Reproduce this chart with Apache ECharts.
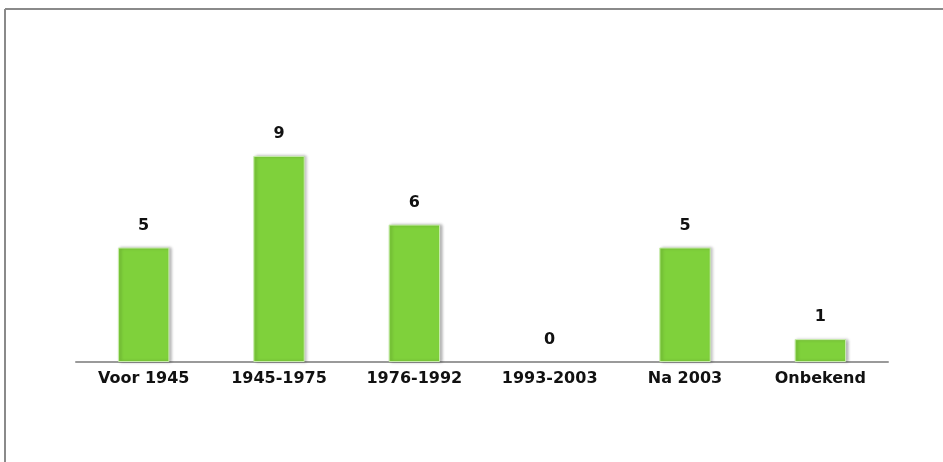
<!DOCTYPE html>
<html><head><meta charset="utf-8">
<script src="https://cdn.jsdelivr.net/npm/echarts@6/dist/echarts.min.js"></script>
<style>html,body{margin:0;padding:0;background:#fff}#c{width:943px;height:462px}</style>
</head><body><div id="c"></div>
<script>
const categories = ['Voor 1945', '1945-1975', '1976-1992', '1993-2003', 'Na 2003', 'Onbekend'];
const values = [5, 9, 6, 0, 5, 1];

const chart = echarts.init(document.getElementById('c'), null, {renderer: 'canvas'});
chart.setOption({
  animation: false,
  backgroundColor: '#fff',
  grid: {left: 76, right: 55, top: 133, bottom: 100},
  xAxis: {
    type: 'category',
    data: categories,
    axisLine: {lineStyle: {color: '#9a9a9a', width: 2}},
    axisTick: {show: false},
    axisLabel: {color: '#111', fontFamily: 'DejaVu Sans', fontWeight: 'bold', fontSize: 16, margin: 9}
  },
  yAxis: {type: 'value', min: 0, max: 10, show: false, splitLine: {show: false}},
  series: [{
    type: 'bar',
    data: values.map(v => v === 0 ? {value: v, itemStyle: {borderWidth: 0, shadowBlur: 0, shadowColor: 'rgba(0,0,0,0)'}} : v),
    barWidth: '38%',
    itemStyle: {
      color: '#7fd13b',
      borderColor: '#c8ecac',
      borderWidth: 1,
      shadowColor: 'rgba(0,0,0,0.28)',
      shadowBlur: 3,
      shadowOffsetX: 2,
      shadowOffsetY: 0
    },
    label: {show: true, position: 'top', distance: 14, color: '#111', fontFamily: 'DejaVu Sans', fontWeight: 'bold', fontSize: 16}
  }],
  graphic: [
    {type: 'line', shape: {x1: 5, y1: 9, x2: 943, y2: 9}, style: {stroke: '#8a8a8a', lineWidth: 2}},
    {type: 'line', shape: {x1: 5, y1: 9, x2: 5, y2: 462}, style: {stroke: '#8a8a8a', lineWidth: 2}}
  ]
});
</script></body></html>
